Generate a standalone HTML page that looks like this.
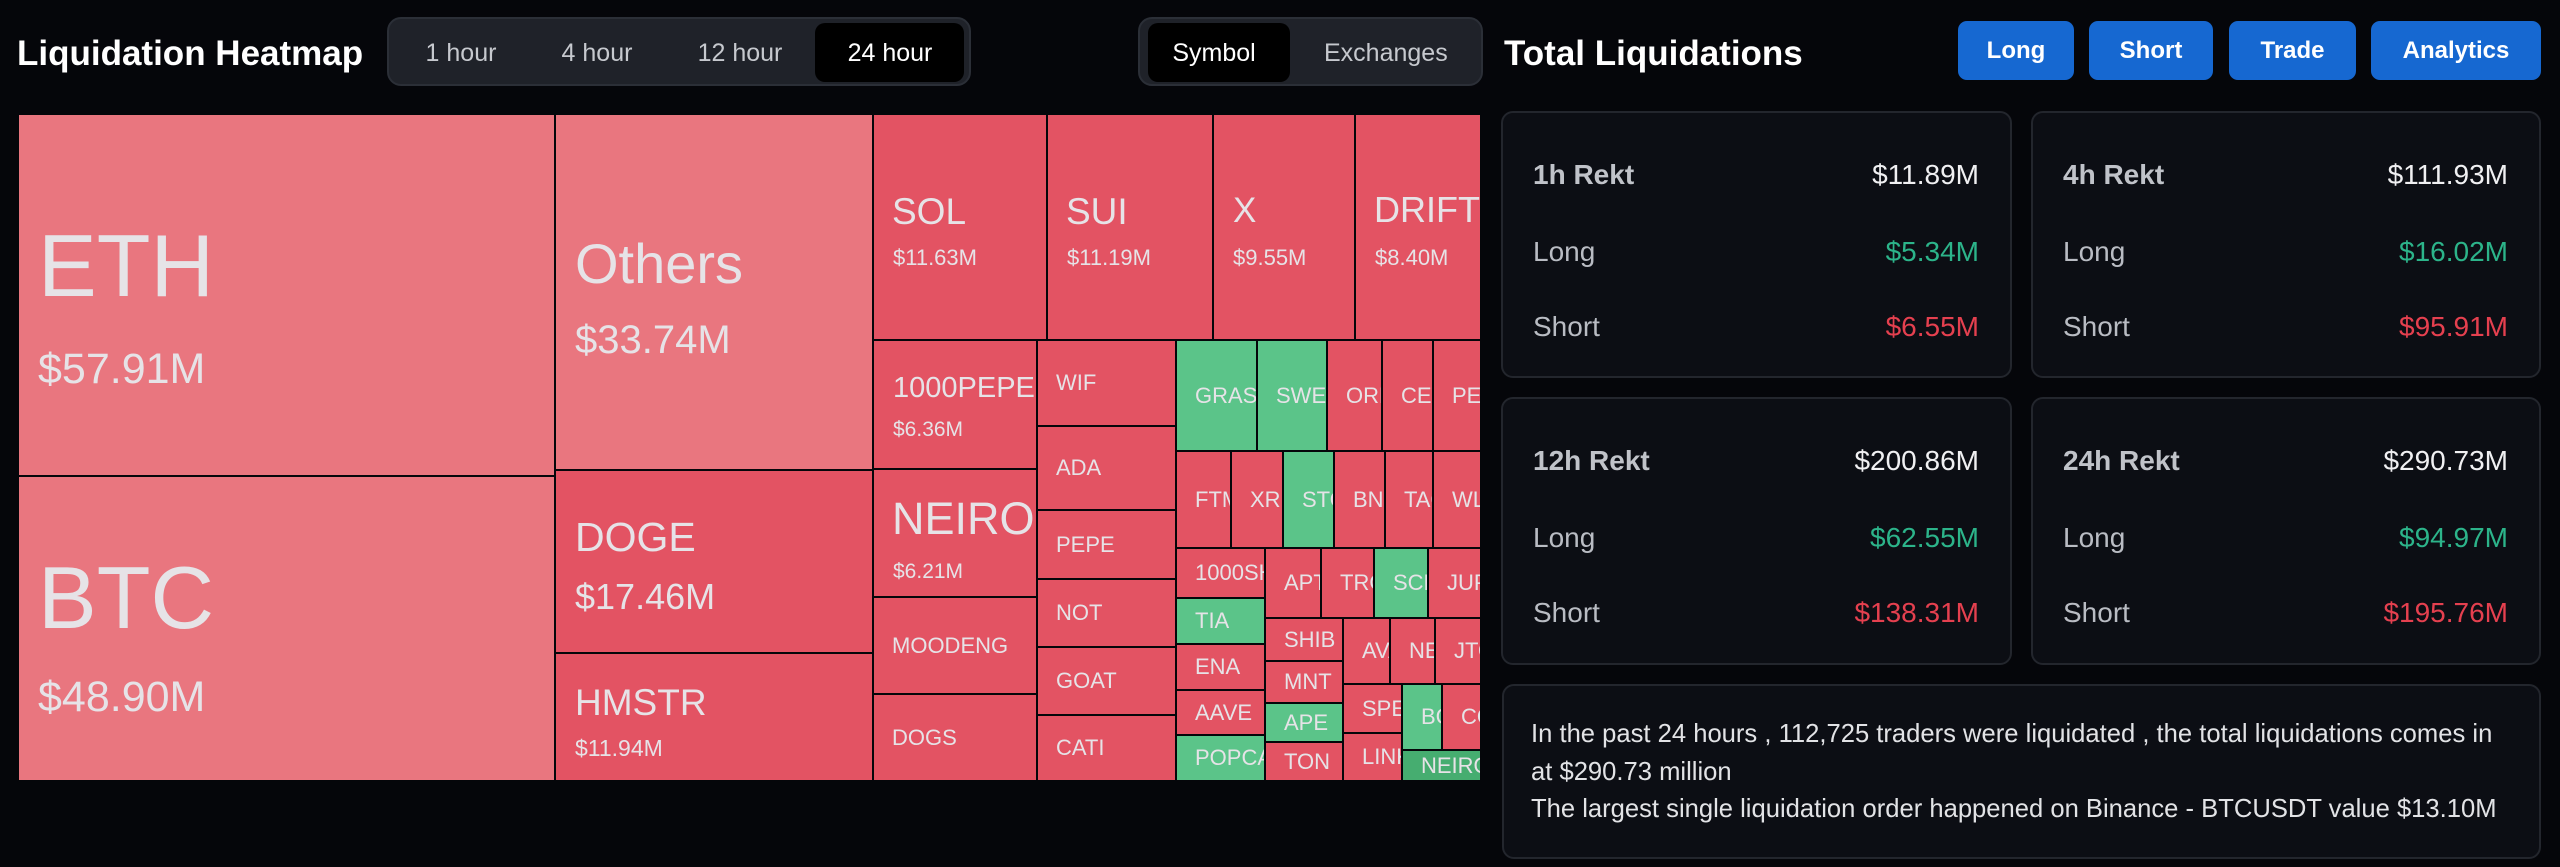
<!DOCTYPE html>
<html><head><meta charset="utf-8">
<style>
*{box-sizing:border-box}
body{margin:0;width:2560px;height:867px;background:#05060a;overflow:hidden;font-family:"Liberation Sans",sans-serif;position:relative}
.a{position:absolute;white-space:nowrap;line-height:1}
.t{position:absolute;overflow:hidden;color:#e6e3e7;white-space:nowrap}
.p{background:#e9767f}
.r{background:#e35363}
.g{background:#5bc489}
.dg{background:#46ad70}
.s{display:flex;align-items:center;padding-left:18px;font-size:22px;line-height:22px}
.t .n{position:absolute;line-height:1;white-space:nowrap}
.seg{position:absolute;background:#1f2229;border:2px solid #2b2f37;border-radius:14px}
.sel{position:absolute;background:#000;border-radius:10px}
.st{position:absolute;font-size:25px;line-height:1;text-align:center;color:#c6c9ce;white-space:nowrap}
.btn{position:absolute;top:21px;height:59px;background:#1668d1;border-radius:9px;color:#fff;font-weight:bold;font-size:24px;display:flex;align-items:center;justify-content:center}
.card{position:absolute;background:#0c0e14;border:2px solid #23262d;border-radius:12px}
.card .l{position:absolute;left:30px;font-size:28px;line-height:1;color:#b9bcc3}
.card .lb{font-weight:bold;color:#c0c3c9}
.card .v{position:absolute;right:31px;font-size:28px;line-height:1;color:#f0f0f2}
.gr{color:#2cb48a!important}
.rd{color:#e5404f!important}
</style></head><body>

<!-- Header left -->
<div class="a" style="left:17px;top:36px;font-size:35px;font-weight:bold;color:#fff">Liquidation Heatmap</div>
<div class="seg" style="left:387px;top:17px;width:584px;height:69px"></div>
<div class="sel" style="left:815px;top:23px;width:149px;height:59px"></div>
<div class="st" style="left:411px;top:41px;width:100px">1 hour</div>
<div class="st" style="left:547px;top:41px;width:100px">4 hour</div>
<div class="st" style="left:690px;top:41px;width:100px">12 hour</div>
<div class="st" style="left:840px;top:41px;width:100px;color:#fff">24 hour</div>

<div class="seg" style="left:1138px;top:17px;width:345px;height:69px"></div>
<div class="sel" style="left:1148px;top:23px;width:142px;height:59px"></div>
<div class="st" style="left:1164px;top:41px;width:100px;color:#fff">Symbol</div>
<div class="st" style="left:1324px;top:41px;width:120px">Exchanges</div>

<div class="a" style="left:1504px;top:36px;font-size:35px;font-weight:bold;color:#fff">Total Liquidations</div>
<div class="btn" style="left:1958px;width:116px">Long</div>
<div class="btn" style="left:2089px;width:124px">Short</div>
<div class="btn" style="left:2229px;width:127px">Trade</div>
<div class="btn" style="left:2371px;width:170px">Analytics</div>

<!-- Treemap -->
<div class="t p" style="left:19px;top:115px;width:535px;height:360px">
  <div class="n" style="left:19px;top:107px;font-size:88px">ETH</div>
  <div class="n" style="left:19px;top:233px;font-size:43px">$57.91M</div>
</div>
<div class="t p" style="left:19px;top:477px;width:535px;height:303px">
  <div class="n" style="left:19px;top:77px;font-size:88px">BTC</div>
  <div class="n" style="left:19px;top:199px;font-size:43px">$48.90M</div>
</div>
<div class="t p" style="left:556px;top:115px;width:316px;height:354px">
  <div class="n" style="left:19px;top:121px;font-size:56px">Others</div>
  <div class="n" style="left:19px;top:205px;font-size:40px">$33.74M</div>
</div>
<div class="t r" style="left:556px;top:471px;width:316px;height:181px">
  <div class="n" style="left:19px;top:46px;font-size:41px">DOGE</div>
  <div class="n" style="left:19px;top:108px;font-size:36px">$17.46M</div>
</div>
<div class="t r" style="left:556px;top:654px;width:316px;height:126px">
  <div class="n" style="left:19px;top:30px;font-size:37px">HMSTR</div>
  <div class="n" style="left:19px;top:83px;font-size:23px">$11.94M</div>
</div>
<div class="t r" style="left:874px;top:115px;width:172px;height:224px">
  <div class="n" style="left:18px;top:78px;font-size:37px">SOL</div>
  <div class="n" style="left:19px;top:132px;font-size:22px">$11.63M</div>
</div>
<div class="t r" style="left:1048px;top:115px;width:164px;height:224px">
  <div class="n" style="left:18px;top:78px;font-size:37px">SUI</div>
  <div class="n" style="left:19px;top:132px;font-size:22px">$11.19M</div>
</div>
<div class="t r" style="left:1214px;top:115px;width:140px;height:224px">
  <div class="n" style="left:19px;top:78px;font-size:35px">X</div>
  <div class="n" style="left:19px;top:132px;font-size:22px">$9.55M</div>
</div>
<div class="t r" style="left:1356px;top:115px;width:124px;height:224px">
  <div class="n" style="left:18px;top:77px;font-size:36px">DRIFT</div>
  <div class="n" style="left:19px;top:132px;font-size:22px">$8.40M</div>
</div>
<div class="t r" style="left:874px;top:341px;width:162px;height:127px">
  <div class="n" style="left:19px;top:33px;font-size:29px">1000PEPE</div>
  <div class="n" style="left:19px;top:78px;font-size:21px">$6.36M</div>
</div>
<div class="t r" style="left:874px;top:470px;width:162px;height:126px">
  <div class="n" style="left:18px;top:26px;font-size:45px">NEIRO</div>
  <div class="n" style="left:19px;top:91px;font-size:21px">$6.21M</div>
</div>
<div class="t r s" style="left:874px;top:598px;width:162px;height:95px">MOODENG</div>
<div class="t r s" style="left:874px;top:695px;width:162px;height:85px">DOGS</div>
<div class="t r s" style="left:1038px;top:341px;width:137px;height:84px">WIF</div>
<div class="t r s" style="left:1038px;top:427px;width:137px;height:82px">ADA</div>
<div class="t r s" style="left:1038px;top:511px;width:137px;height:67px">PEPE</div>
<div class="t r s" style="left:1038px;top:580px;width:137px;height:66px">NOT</div>
<div class="t r s" style="left:1038px;top:648px;width:137px;height:66px">GOAT</div>
<div class="t r s" style="left:1038px;top:716px;width:137px;height:64px">CATI</div>

<div class="t g s" style="left:1177px;top:341px;width:79px;height:109px">GRASS</div>
<div class="t g s" style="left:1258px;top:341px;width:68px;height:109px">SWELL</div>
<div class="t r s" style="left:1328px;top:341px;width:53px;height:109px">ORDI</div>
<div class="t r s" style="left:1383px;top:341px;width:49px;height:109px">CETUS</div>
<div class="t r s" style="left:1434px;top:341px;width:46px;height:109px">PEOPLE</div>

<div class="t r s" style="left:1177px;top:452px;width:53px;height:95px">FTM</div>
<div class="t r s" style="left:1232px;top:452px;width:50px;height:95px">XRP</div>
<div class="t g s" style="left:1284px;top:452px;width:49px;height:95px">STORJ</div>
<div class="t r s" style="left:1335px;top:452px;width:49px;height:95px">BNB</div>
<div class="t r s" style="left:1386px;top:452px;width:46px;height:95px">TAO</div>
<div class="t r s" style="left:1434px;top:452px;width:46px;height:95px">WLD</div>

<div class="t r s" style="left:1177px;top:549px;width:87px;height:48px">1000SHIB</div>
<div class="t g s" style="left:1177px;top:599px;width:87px;height:44px">TIA</div>
<div class="t r s" style="left:1177px;top:645px;width:87px;height:44px">ENA</div>
<div class="t r s" style="left:1177px;top:691px;width:87px;height:43px">AAVE</div>
<div class="t g s" style="left:1177px;top:736px;width:87px;height:44px">POPCAT</div>

<div class="t r s" style="left:1266px;top:549px;width:54px;height:68px">APT</div>
<div class="t r s" style="left:1322px;top:549px;width:51px;height:68px">TROY</div>
<div class="t g s" style="left:1375px;top:549px;width:52px;height:68px">SCR</div>
<div class="t r s" style="left:1429px;top:549px;width:51px;height:68px">JUP</div>

<div class="t r s" style="left:1266px;top:619px;width:76px;height:41px">SHIB</div>
<div class="t r s" style="left:1266px;top:662px;width:76px;height:40px">MNT</div>
<div class="t g s" style="left:1266px;top:704px;width:76px;height:37px">APE</div>
<div class="t r s" style="left:1266px;top:743px;width:76px;height:37px">TON</div>

<div class="t r s" style="left:1344px;top:619px;width:45px;height:64px">AVAX</div>
<div class="t r s" style="left:1391px;top:619px;width:43px;height:64px">NEAR</div>
<div class="t r s" style="left:1436px;top:619px;width:44px;height:64px">JTO</div>

<div class="t r s" style="left:1344px;top:685px;width:57px;height:47px">SPELL</div>
<div class="t r s" style="left:1344px;top:734px;width:57px;height:46px">LINK</div>
<div class="t g s" style="left:1403px;top:685px;width:38px;height:64px">BCH</div>
<div class="t r s" style="left:1443px;top:685px;width:37px;height:64px">COMP</div>
<div class="t dg s" style="left:1403px;top:751px;width:77px;height:29px">NEIROETH</div>

<!-- Cards -->
<div class="card" style="left:1501px;top:111px;width:511px;height:267px">
  <div class="l lb" style="top:48px">1h Rekt</div><div class="v" style="top:48px">$11.89M</div>
  <div class="l" style="top:125px">Long</div><div class="v gr" style="top:125px">$5.34M</div>
  <div class="l" style="top:200px">Short</div><div class="v rd" style="top:200px">$6.55M</div>
</div>
<div class="card" style="left:2031px;top:111px;width:510px;height:267px">
  <div class="l lb" style="top:48px">4h Rekt</div><div class="v" style="top:48px">$111.93M</div>
  <div class="l" style="top:125px">Long</div><div class="v gr" style="top:125px">$16.02M</div>
  <div class="l" style="top:200px">Short</div><div class="v rd" style="top:200px">$95.91M</div>
</div>
<div class="card" style="left:1501px;top:397px;width:511px;height:268px">
  <div class="l lb" style="top:48px">12h Rekt</div><div class="v" style="top:48px">$200.86M</div>
  <div class="l" style="top:125px">Long</div><div class="v gr" style="top:125px">$62.55M</div>
  <div class="l" style="top:200px">Short</div><div class="v rd" style="top:200px">$138.31M</div>
</div>
<div class="card" style="left:2031px;top:397px;width:510px;height:268px">
  <div class="l lb" style="top:48px">24h Rekt</div><div class="v" style="top:48px">$290.73M</div>
  <div class="l" style="top:125px">Long</div><div class="v gr" style="top:125px">$94.97M</div>
  <div class="l" style="top:200px">Short</div><div class="v rd" style="top:200px">$195.76M</div>
</div>
<div class="card" style="left:1502px;top:684px;width:1039px;height:175px">
  <div style="position:absolute;left:27px;top:30px;font-size:25.6px;line-height:37.5px;color:#e2e3e6;white-space:nowrap">In the past 24 hours , 112,725 traders were liquidated , the total liquidations comes in<br>at $290.73 million<br>The largest single liquidation order happened on Binance - BTCUSDT value $13.10M</div>
</div>

</body></html>
